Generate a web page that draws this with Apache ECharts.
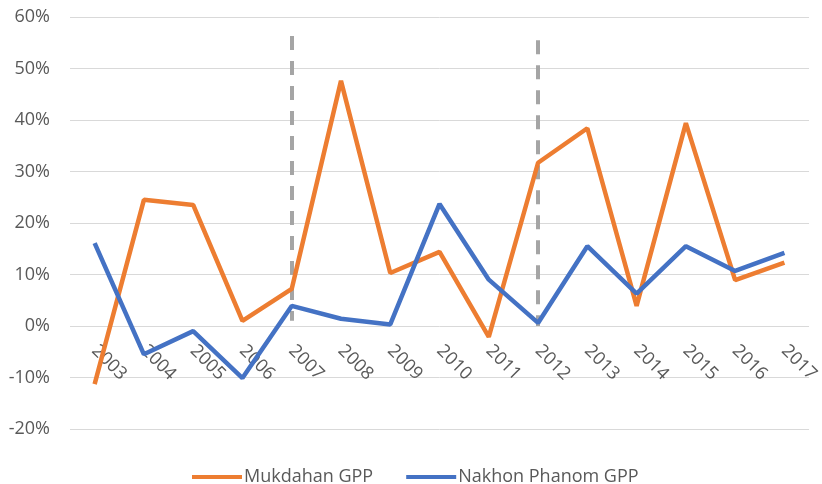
<!DOCTYPE html>
<html>
<head>
<meta charset="utf-8">
<script src="https://cdn.jsdelivr.net/npm/echarts@6/dist/echarts.min.js"></script>
<style>html,body{margin:0;padding:0;background:#fff}#c{width:822px;height:484px}</style>
</head>
<body>
<div id="c"></div>
<script>
var years = ['2003','2004','2005','2006','2007','2008','2009','2010','2011','2012','2013','2014','2015','2016','2017'];
var mukdahan = [-11.3, 24.5, 23.5, 1.0, 7.2, 47.6, 10.3, 14.4, -2.1, 31.7, 38.4, 3.9, 39.4, 8.9, 12.3];
var nakhonPhanom = [16.1, -5.5, -1.0, -10.1, 3.9, 1.4, 0.3, 23.7, 9.0, 0.6, 15.5, 6.3, 15.5, 10.7, 14.2];
var dividerYears = ['2007', '2012'];
var dividerTop = [56.3, 55.5];
var dividerBottom = [1, 0];
var yTicks = { min: -20, max: 60, interval: 10 };

var font = '"Open Sans", sans-serif';
var chart = echarts.init(document.getElementById('c'), null, { renderer: 'canvas' });
var markData = dividerYears.map(function (y, i) {
  return [{ coord: [y, dividerTop[i]] }, { coord: [y, dividerBottom[i]] }];
});
// pixel distance from the bottom of the grid to the zero line (labels sit on the zero line)
var gridTop = 17, gridBottom = 55, plotH = 484 - gridTop - gridBottom;
var zeroOffset = -plotH * (0 - yTicks.min) / (yTicks.max - yTicks.min);
chart.setOption({
  animation: false,
  grid: { left: 70, right: 12.5, top: gridTop, bottom: gridBottom, containLabel: false },
  legend: {
    top: 463,
    left: 187,
    icon: 'rect',
    itemWidth: 50,
    itemHeight: 4,
    itemGap: 33,
    textStyle: { fontFamily: font, fontSize: 18, color: '#595959', padding: [0, 0, 0, -3] },
    data: ['Mukdahan GPP', 'Nakhon Phanom GPP']
  },
  xAxis: {
    type: 'category',
    data: years,
    boundaryGap: true,
    offset: zeroOffset,
    axisLine: { show: false, onZero: false },
    axisTick: { show: false },
    axisLabel: { rotate: -45, margin: 22, fontFamily: font, fontSize: 18, color: '#595959' }
  },
  yAxis: {
    type: 'value',
    min: yTicks.min,
    max: yTicks.max,
    interval: yTicks.interval,
    axisLine: { show: false },
    axisTick: { show: false },
    splitLine: { lineStyle: { color: '#d9d9d9', width: 1 } },
    axisLabel: { formatter: '{value}%', margin: 20, fontFamily: font, fontSize: 18, color: '#595959' }
  },
  series: [
    {
      name: 'Mukdahan GPP',
      type: 'line',
      data: mukdahan,
      symbol: 'none',
      lineStyle: { color: '#ED7D31', width: 4.5 },
      itemStyle: { color: '#ED7D31' },
      z: 3,
      markLine: {
        silent: true,
        symbol: ['none', 'none'],
        label: { show: false },
        lineStyle: { color: '#a5a5a5', width: 4, type: [14, 11] },
        data: markData,
        z: 1
      }
    },
    {
      name: 'Nakhon Phanom GPP',
      type: 'line',
      data: nakhonPhanom,
      symbol: 'none',
      lineStyle: { color: '#4472C4', width: 4.5 },
      itemStyle: { color: '#4472C4' },
      z: 4
    }
  ]
});
</script>
</body>
</html>
